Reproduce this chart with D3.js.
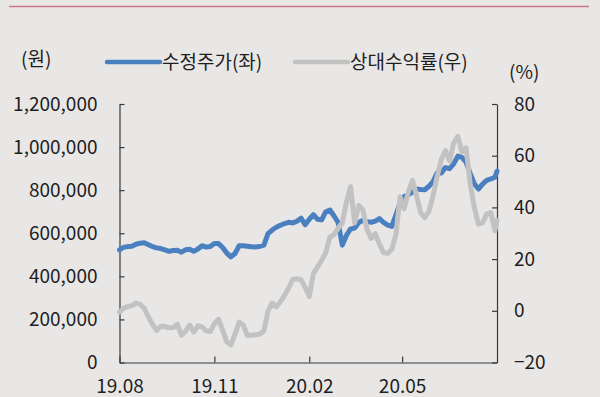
<!DOCTYPE html>
<html>
<head>
<meta charset="utf-8">
<script src="https://cdn.jsdelivr.net/npm/d3@7"></script>
<style>
    body { margin: 0; background: #e9e7e6; }
    svg { display: block; }
    text { font-family: "Noto Sans CJK KR", "Noto Sans", sans-serif; fill: #1e1e1e; }
</style>
</head>
<body>
<svg id="chart" width="600" height="397"></svg>
<script>
var width = 600;
var height = 397;

// dates of the sampled points (yyyy-mm-dd)
var dates = [
    "2019-08-01", "2019-08-05", "2019-08-09", "2019-08-13", "2019-08-17", "2019-08-21", "2019-08-25", "2019-08-29",
    "2019-09-02", "2019-09-06", "2019-09-10", "2019-09-14", "2019-09-18", "2019-09-22", "2019-09-26", "2019-09-30",
    "2019-10-04", "2019-10-08", "2019-10-12", "2019-10-16", "2019-10-20", "2019-10-24", "2019-10-28",
    "2019-11-01", "2019-11-05", "2019-11-09", "2019-11-13", "2019-11-17", "2019-11-21", "2019-11-25", "2019-11-29",
    "2019-12-03", "2019-12-07", "2019-12-11", "2019-12-15", "2019-12-19", "2019-12-23", "2019-12-27", "2019-12-31",
    "2020-01-04", "2020-01-08", "2020-01-12", "2020-01-16", "2020-01-20", "2020-01-24", "2020-01-28",
    "2020-02-01", "2020-02-05", "2020-02-09", "2020-02-13", "2020-02-17", "2020-02-21", "2020-02-25", "2020-02-29",
    "2020-03-04", "2020-03-08", "2020-03-12", "2020-03-16", "2020-03-20", "2020-03-24", "2020-03-28",
    "2020-04-01", "2020-04-05", "2020-04-09", "2020-04-13", "2020-04-17", "2020-04-21", "2020-04-25", "2020-04-29",
    "2020-05-03", "2020-05-07", "2020-05-11", "2020-05-15", "2020-05-19", "2020-05-23", "2020-05-27", "2020-05-31",
    "2020-06-04", "2020-06-08", "2020-06-12", "2020-06-16", "2020-06-20", "2020-06-24", "2020-06-28",
    "2020-07-02", "2020-07-06", "2020-07-10", "2020-07-14", "2020-07-18", "2020-07-22", "2020-07-26", "2020-07-30",
    "2020-08-01"
];

// 수정주가 (원)
var price = [
    523000, 535000, 538000, 540000, 549000, 554000, 556000, 547000, 538000, 532000,
    529000, 523000, 516000, 520000, 521000, 512000, 523000, 526000, 516000, 527000,
    542000, 536000, 538000, 552000, 552000, 534000, 508000, 490000, 506000, 542000,
    542000, 540000, 537000, 536000, 539000, 545000, 598000, 615000, 628000, 637000,
    645000, 651000, 648000, 656000, 670000, 640000, 665000, 686000, 665000, 662000,
    700000, 708000, 680000, 650000, 545000, 590000, 620000, 624000, 650000, 660000,
    653000, 651000, 656000, 668000, 650000, 638000, 632000, 685000, 740000, 770000,
    779000, 791000, 805000, 803000, 802000, 818000, 840000, 880000, 880000, 905000,
    900000, 922000, 958000, 952000, 930000, 878000, 830000, 805000, 828000, 845000,
    852000, 860000, 888000
];

// 상대수익률 (%)
var relReturn = [
    -0.5, 1.0, 1.6, 2.0, 3.0, 2.5, 1.0, -2.4, -5.2, -7.6,
    -6.0, -6.1, -6.6, -6.5, -5.2, -9.4, -8.0, -5.5, -8.2, -5.8,
    -6.2, -7.8, -8.0, -5.0, -3.2, -7.5, -12.0, -13.2, -9.0, -4.4,
    -5.5, -9.5, -9.5, -9.3, -9.0, -7.8, 0.0, 3.0, 1.5, 3.5,
    6.0, 8.8, 12.2, 12.4, 12.0, 9.0, 5.5, 14.5, 17.0, 19.5,
    22.5, 28.5, 29.5, 32.0, 34.0, 42.0, 48.0, 34.0, 40.8, 39.0,
    31.5, 28.0, 29.8, 25.8, 22.5, 22.2, 23.8, 29.5, 44.1, 39.5,
    46.0, 50.5, 44.5, 38.0, 36.0, 38.5, 44.5, 52.0, 58.5, 62.0,
    58.0, 65.0, 67.5, 61.5, 63.0, 49.0, 40.0, 33.5, 34.0, 37.5,
    38.0, 31.0, 35.0
];

var leftTicks = [0, 200000, 400000, 600000, 800000, 1000000, 1200000];
var rightTicks = [-20, 0, 20, 40, 60, 80];
var xTickDates = ["2019-08-01", "2019-11-01", "2020-02-01", "2020-05-01"];
var xDomain = ["2019-08-01", "2020-08-01"];
var seriesNames = ["수정주가(좌)", "상대수익률(우)"];

function drawChart() {
    var svg = d3.select("#chart");
    var parse = d3.timeParse("%Y-%m-%d");

    var plot = {left: 119.5, right: 497, top: 104, bottom: 362.5};

    var x = d3.scaleTime()
        .domain(xDomain.map(parse))
        .range([plot.left, plot.right]);

    var yLeft = d3.scaleLinear()
        .domain([0, 1200000])
        .range([plot.bottom, plot.top]);

    var yRight = d3.scaleLinear()
        .domain([-20, 80])
        .range([plot.bottom, plot.top]);

    // pink rule at the top
    svg.append("line")
        .attr("x1", 9).attr("x2", 589)
        .attr("y1", 6.5).attr("y2", 6.5)
        .style("stroke", "#c9758e")
        .style("stroke-width", 1.6);

    function styleAxis(g) {
        g.select(".domain").style("stroke", "#3a3a3a").style("stroke-width", 1.2);
        g.selectAll(".tick line").style("stroke", "#3a3a3a").style("stroke-width", 1.2);
        g.selectAll("text")
            .attr("fill", "#1e1e1e")
            .style("font-family", '"Noto Sans CJK KR", "Noto Sans", sans-serif')
            .style("font-size", "19px");
    }

    svg.append("g")
        .attr("transform", "translate(" + plot.left + ",0)")
        .call(d3.axisLeft(yLeft)
            .tickValues(leftTicks)
            .tickSizeInner(-5)
            .tickSizeOuter(0)
            .tickPadding(22)
            .tickFormat(d3.format(",")))
        .call(styleAxis);

    svg.append("g")
        .attr("transform", "translate(" + plot.right + ",0)")
        .call(d3.axisRight(yRight)
            .tickValues(rightTicks)
            .tickSizeInner(-5)
            .tickSizeOuter(0)
            .tickPadding(17)
            .tickFormat(d3.format("d")))
        .call(styleAxis);

    svg.append("g")
        .attr("transform", "translate(0," + plot.bottom + ")")
        .call(d3.axisBottom(x)
            .tickValues(xTickDates.map(parse))
            .tickSizeInner(-6)
            .tickSizeOuter(0)
            .tickPadding(17)
            .tickFormat(d3.timeFormat("%y.%m")))
        .call(styleAxis);

    // the two series, gray drawn over blue
    var points = dates.map(function (d, i) {
        return {date: parse(d), price: price[i], rel: relReturn[i]};
    });

    var priceLine = d3.line()
        .x(function (d) { return x(d.date); })
        .y(function (d) { return yLeft(d.price); });

    var relLine = d3.line()
        .x(function (d) { return x(d.date); })
        .y(function (d) { return yRight(d.rel); });

    svg.append("path")
        .datum(points)
        .attr("d", priceLine)
        .style("fill", "none")
        .style("stroke", "#4a7fc0")
        .style("stroke-width", 5)
        .style("stroke-linejoin", "round")
        .style("stroke-linecap", "round");

    svg.append("path")
        .datum(points)
        .attr("d", relLine)
        .style("fill", "none")
        .style("stroke", "#c2c2c2")
        .style("stroke-width", 5)
        .style("stroke-linejoin", "round")
        .style("stroke-linecap", "round");

    // unit labels
    svg.append("text")
        .attr("x", 21).attr("y", 66)
        .style("font-size", "19px")
        .text("(원)");

    svg.append("text")
        .attr("x", 509).attr("y", 79)
        .style("font-size", "19px")
        .text("(%)");

    // legend
    var legend = svg.append("g");
    var legendItems = [
        {name: seriesNames[0], color: "#4a7fc0", x: 107},
        {name: seriesNames[1], color: "#c2c2c2", x: 295}
    ];

    var item = legend.selectAll("g")
        .data(legendItems)
        .enter().append("g")
        .attr("transform", function (d) { return "translate(" + d.x + ",62)"; });

    item.append("line")
        .attr("x1", 0).attr("x2", 53)
        .style("stroke", function (d) { return d.color; })
        .style("stroke-width", 4.5)
        .style("stroke-linecap", "round");

    item.append("text")
        .attr("x", 55)
        .attr("dy", "0.35em")
        .style("font-size", "19px")
        .text(function (d) { return d.name; });
}

drawChart();
</script>
</body>
</html>
